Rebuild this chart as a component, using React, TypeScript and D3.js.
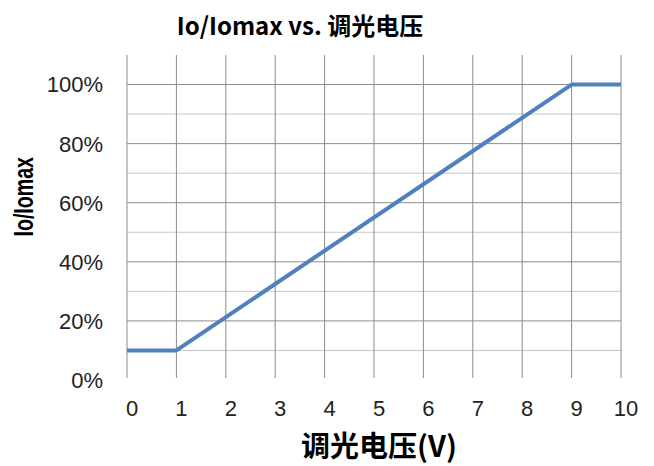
import { line, scaleLinear } from 'd3';

const width = 654;
const height = 466;
const margin = { top: 55, right: 33, bottom: 86, left: 127 };

const title = 'Io/Iomax vs. 调光电压';
const xAxisLabel = '调光电压(V)';
const yAxisLabel = 'Io/Iomax';

// dimming voltage (V) and output ratio
const voltages = [0, 1, 9, 10];
const ratios = [0.1, 0.1, 1.0, 1.0];

const xTicks = [0, 1, 2, 3, 4, 5, 6, 7, 8, 9, 10];
const yTicks = [0, 0.2, 0.4, 0.6, 0.8, 1.0];
const yMinorTicks = [0.1, 0.3, 0.5, 0.7, 0.9];

const App = () => {
	const innerWidth = width - margin.left - margin.right;
	const innerHeight = height - margin.top - margin.bottom;

	const xScale = scaleLinear().domain([0, 10]).range([0, innerWidth]);
	const yScale = scaleLinear().domain([0, 1.1]).range([innerHeight, 0]);

	const points: [number, number][] = voltages.map((v, i) => [v, ratios[i]]);
	const path =
		line<[number, number]>()
			.x(d => xScale(d[0]))
			.y(d => yScale(d[1]))(points) || '';

	const labelFont = '"Liberation Sans", Arial, sans-serif';
	const cjkFont = '"Noto Sans CJK SC", "Liberation Sans", sans-serif';

	return (
		<svg
			width={width}
			height={height}
			style={{ position: 'absolute', left: 0, top: 0, background: '#fff' }}
		>
			<text
				x={300}
				y={35}
				textAnchor="middle"
				fontFamily={cjkFont}
				fontWeight="bold"
				fontSize={24}
				fill="#000"
			>
				{title}
			</text>
			<g transform={`translate(${margin.left},${margin.top})`}>
				{yMinorTicks.map(t => (
					<line
						key={'m' + t}
						x1={0}
						x2={innerWidth}
						y1={yScale(t)}
						y2={yScale(t)}
						stroke="#c8c8c8"
						strokeWidth={1}
					/>
				))}
				{yTicks
					.filter(t => t > 0)
					.map(t => (
						<line
							key={'M' + t}
							x1={0}
							x2={innerWidth}
							y1={yScale(t)}
							y2={yScale(t)}
							stroke="#8c8c8c"
							strokeWidth={1}
						/>
					))}
				{xTicks.map(t => (
					<line
						key={'v' + t}
						x1={xScale(t)}
						x2={xScale(t)}
						y1={0}
						y2={innerHeight - 2}
						stroke="#8c8c8c"
						strokeWidth={1}
					/>
				))}
				{yTicks.map(t => (
					<text
						key={'yl' + t}
						x={-24}
						y={yScale(t)}
						dy=".36em"
						textAnchor="end"
						fontFamily={labelFont}
						fontSize={22}
						fill="#222"
					>
						{Math.round(t * 100) + '%'}
					</text>
				))}
				{xTicks.map(t => (
					<text
						key={'xl' + t}
						x={xScale(t) + 5}
						y={innerHeight + 36}
						textAnchor="middle"
						fontFamily={labelFont}
						fontSize={22}
						fill="#222"
					>
						{t}
					</text>
				))}
				<path
					d={path}
					fill="none"
					stroke="#4f81bd"
					strokeWidth={4}
					strokeLinejoin="round"
				/>
			</g>
			<text
				x={379}
				y={457}
				textAnchor="middle"
				fontFamily={cjkFont}
				fontWeight="bold"
				fontSize={29}
				fill="#000"
			>
				{xAxisLabel}
			</text>
			<text
				transform="translate(33,157) rotate(-90) scale(0.7,1)"
				textAnchor="end"
				fontFamily={labelFont}
				fontWeight="bold"
				fontSize={28}
				fill="#000"
			>
				{yAxisLabel}
			</text>
		</svg>
	);
};

export default App;
